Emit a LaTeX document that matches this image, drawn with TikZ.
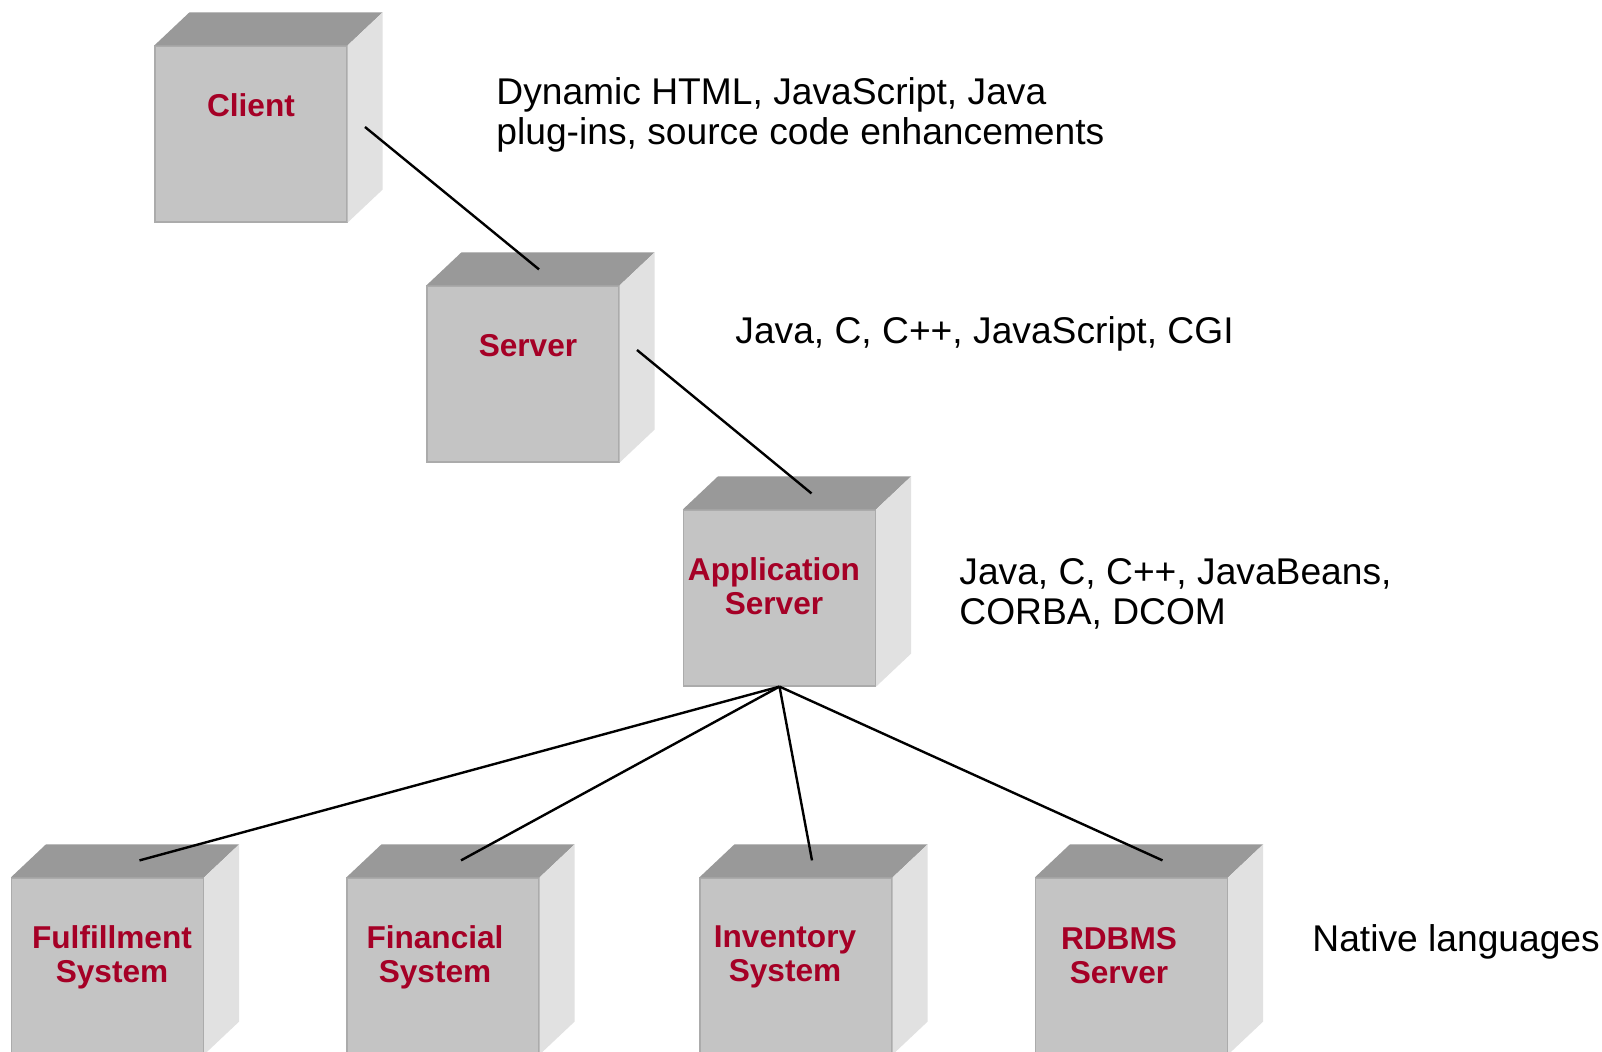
\documentclass[tikz,border=0pt]{standalone}
\usepackage{fontspec}
\setmainfont{Liberation Sans}
\usetikzlibrary{calc}
\definecolor{frontc}{HTML}{C4C4C4}
\definecolor{topc}{HTML}{999999}
\definecolor{sidec}{HTML}{E1E1E1}
\definecolor{edgec}{HTML}{ABABAB}
\definecolor{labred}{HTML}{A50026}
\tikzset{
  front/.style={fill=frontc,draw=edgec,line width=0.6pt,minimum width=96pt,minimum height=88pt,inner sep=0pt},
  toptint/.style={fill=topc},
  sidetint/.style={fill=sidec},
  boxlabel/.style={font=\bfseries\fontsize{15.8}{17}\selectfont,text=labred,align=center,inner sep=0pt},
  note/.style={font=\fontsize{18.6}{20}\selectfont,align=left,anchor=west,inner sep=0pt},
  wire/.style={line width=1.2pt,black}
}
\newcommand\cubebox[2]{%
  \node[front] (#1) at (#2) {};
  \fill[toptint] (#1.north west) -- ++(35,-33) -- ($(#1.north east)+(35,-33)$) -- (#1.north east) -- cycle;
  \fill[sidetint] (#1.north east) -- ++(35,-33) -- ($(#1.south east)+(35,-33)$) -- (#1.south east) -- cycle;
}
\begin{document}
\begin{tikzpicture}[x=0.5pt,y=-0.5pt]
\useasboundingbox (0,0) rectangle (1602,1052);
\fill[white] (0,0) rectangle (1602,1052);
\cubebox{client}{251,134}
\cubebox{server}{523,374}
\cubebox{app}{779.5,598}
\cubebox{fulf}{107.5,966}
\cubebox{fin}{443,966}
\cubebox{inv}{796,966}
\cubebox{rdbms}{1131.5,966}

\node[boxlabel] (clientl) at (251,105) {Client};
\node[boxlabel] (serverl) at (528,346) {Server};
\node[boxlabel] (appl) at (774,586) {Application\\Server};
\node[boxlabel] (fulfl) at (112,957) {Fulfillment\\System};
\node[boxlabel] (finl) at (435,957) {Financial\\System};
\node[boxlabel] (invl) at (785,957) {Inventory\\System};
\node[boxlabel] (rdbmsl) at (1119,956) {RDBMS\\Server};

\node[note] (n1) at (496,115) {Dynamic HTML, JavaScript, Java\\plug-ins, source code enhancements};
\node[note] (n2) at (735,334) {Java, C, C++, JavaScript, CGI};
\node[note] (n3) at (959,594) {Java, C, C++, JavaBeans,\\CORBA, DCOM};
\node[note] (n4) at (1312,942) {Native languages};

\coordinate (cs1) at ($(client.center)+(114,-7)$);
\coordinate (cs2) at ($(server.north)+(16,-16)$);
\coordinate (sa1) at ($(server.center)+(114,-24)$);
\coordinate (sa2) at ($(app.north)+(32,-16)$);
\coordinate (e1) at ($(fulf.north)+(32,-17)$);
\coordinate (e2) at ($(fin.north)+(18,-17)$);
\coordinate (e3) at ($(inv.north)+(16,-17)$);
\coordinate (e4) at ($(rdbms.north)+(31,-17)$);
\draw[wire] (cs1) -- (cs2);
\draw[wire] (sa1) -- (sa2);
\draw[wire] (app.south) -- (e1);
\draw[wire] (app.south) -- (e2);
\draw[wire] (app.south) -- (e3);
\draw[wire] (app.south) -- (e4);
\end{tikzpicture}
\end{document}
